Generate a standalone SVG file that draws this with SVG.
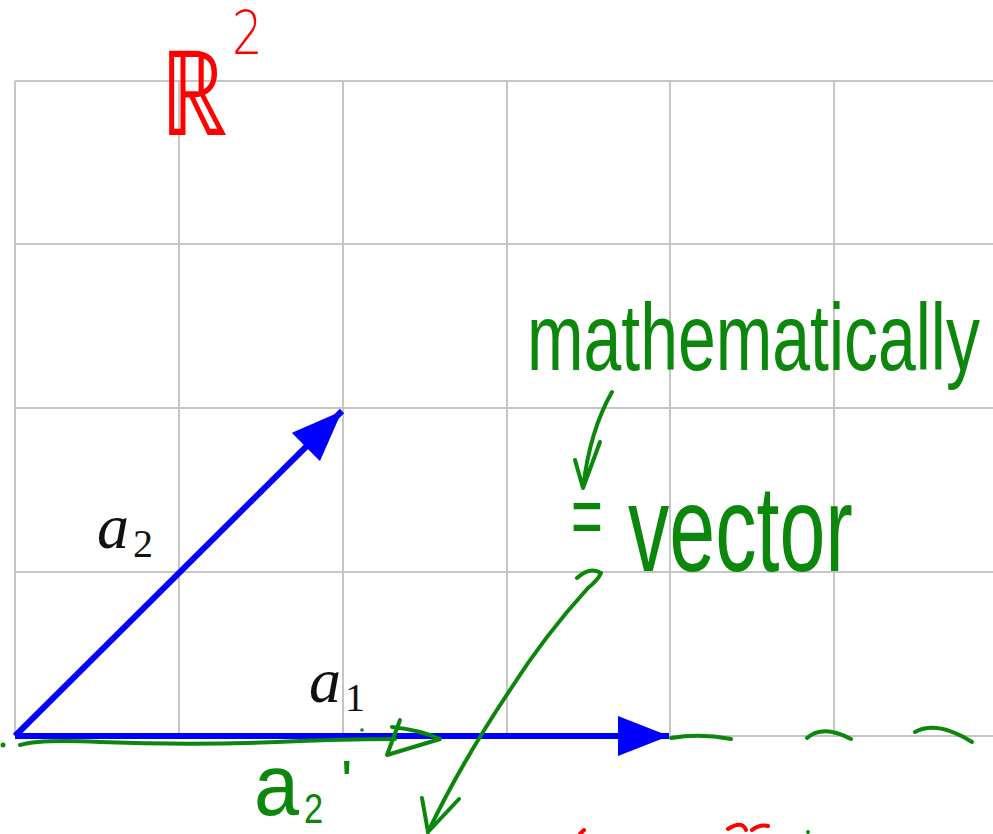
<svg xmlns="http://www.w3.org/2000/svg" width="993" height="834" viewBox="0 0 993 834">
<style>
.grid{stroke:#c6c6c6;stroke-width:2;fill:none}
.vec{stroke:#0000ff;stroke-width:6;fill:none}
.ink{stroke:#0b870b;stroke-width:4;fill:none;stroke-linecap:round;stroke-linejoin:round}
.redink{stroke:#ff0000;stroke-width:4;fill:none;stroke-linecap:round}
.math{font-family:"Liberation Serif","DejaVu Serif",serif;fill:#111}
.hand{font-family:"Liberation Sans","DejaVu Sans",sans-serif;fill:#0b870b}
.handr{font-family:"DejaVu Sans","Liberation Sans",sans-serif;fill:#ff0000}
</style>
<defs>
<marker id="ah" viewBox="0 0 51 40" refX="51" refY="20" markerWidth="51" markerHeight="40" markerUnits="userSpaceOnUse" orient="auto">
<path d="M0 0 L51 20 L0 40 Z" fill="#0000ff"/>
</marker>
</defs>
<rect width="993" height="834" fill="#ffffff"/>
<g id="grid" class="grid">
<path d="M15 81 H993 M15 244 H993 M15 408 H993 M15 572 H993 M15 736 H993"/>
<path d="M15 81 V736 M179 81 V736 M343 81 V736 M507 81 V736 M670 81 V736 M834 81 V736"/>
</g>
<g id="connectors">
<line id="vec-a2" class="vec" x1="15" y1="736" x2="342" y2="411" marker-end="url(#ah)"/>
<line id="vec-a1" class="vec" x1="15" y1="736" x2="669" y2="736" marker-end="url(#ah)"/>
</g>
<g id="label-a2">
<text class="math" x="97" y="548" font-size="64" font-style="italic">a</text>
<text class="math" x="133" y="557" font-size="40">2</text>
</g>
<g id="label-a1">
<text class="math" x="309" y="702" font-size="64" font-style="italic">a</text>
<text class="math" x="345" y="711" font-size="40">1</text>
</g>
<g id="annotation-r2">
<text class="handr" transform="translate(160 135) scale(0.8 1)" font-size="118" font-weight="200">ℝ</text>
<text class="handr" transform="translate(232 54) scale(0.8 1)" font-size="60" font-weight="200">2</text>
</g>
<g id="annotation-mathematically">
<text class="hand" transform="translate(527 370) scale(0.715 1)" font-size="95">mathematically</text>
<path class="ink" d="M612 392 Q590 430 583 488 M575 460 L583 488 L600 442"/>
</g>
<g id="annotation-vector">
<text class="hand" transform="translate(571 546) scale(0.62 1)" font-size="88">=</text>
<text class="hand" transform="translate(628 571) scale(0.677 1)" font-size="122">vector</text>
</g>
<g id="annotation-a2prime">
<text class="hand" transform="translate(254 815) scale(0.92 1)" font-size="88">a</text>
<text class="hand" transform="translate(304 823) scale(0.82 1)" font-size="42">2</text>
<text class="hand" x="341" y="802" font-size="60">'</text>
</g>
<g id="green-strokes">
<path class="ink" d="M20 745 Q40 739 100 742 Q200 746 300 741 Q360 739 395 739"/>
<path class="ink" d="M400 720 L387 755 L440 739 Q420 730 392 727"/>
<circle cx="3" cy="745" r="2.5" fill="#0b870b"/>
<circle cx="362" cy="730" r="1.8" fill="#0b870b"/>
<path class="ink" d="M671 738 Q700 733 731 739"/>
<path class="ink" d="M807 738 Q823 724 851 739"/>
<path class="ink" d="M915 732 Q937 720 972 742"/>
<path class="ink" d="M577 578 Q590 566 601 573 Q598 580 588 588 Q545 635 510 690 Q460 765 428 832"/>
<path class="ink" d="M422 798 L428 832 L459 799"/>
<circle cx="808" cy="832" r="2" fill="#0b870b"/>
</g>
<g id="red-strokes">
<path class="redink" d="M580 834 L584 830"/>
<path class="redink" d="M728 829 Q742 820 746 830 M752 830 Q760 824 768 826"/>
</g>
</svg>
